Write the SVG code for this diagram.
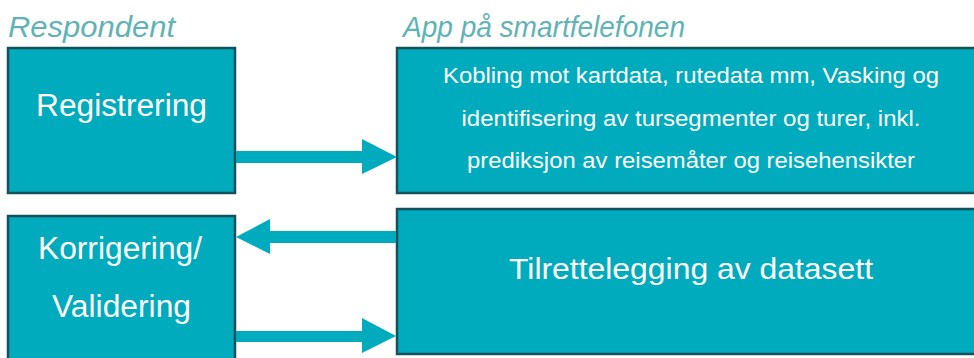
<svg xmlns="http://www.w3.org/2000/svg" width="974" height="358" viewBox="0 0 974 358">
<style>
.box{fill:#00ABBE;stroke:#17505A;stroke-width:2.5}
.hdr{font-family:"Liberation Sans",Arial,sans-serif;font-style:italic;fill:#5FB3B5;font-size:29px}
.lbl{font-family:"Liberation Sans",Arial,sans-serif;fill:#FFFFFF}
.arr{fill:#00ABBE}
</style>
<rect width="974" height="358" fill="#FFFFFF"/>
<text class="hdr" x="8" y="37" textLength="167" lengthAdjust="spacingAndGlyphs">Respondent</text>
<text class="hdr" x="403" y="37" textLength="282" lengthAdjust="spacingAndGlyphs">App på smartfelefonen</text>
<g id="registrering">
<rect class="box" x="8" y="48" width="227" height="145"/>
<text class="lbl" x="36" y="116" font-size="31" textLength="171" lengthAdjust="spacingAndGlyphs">Registrering</text>
</g>
<g id="app">
<rect class="box" x="397" y="48" width="600" height="145"/>
<text class="lbl" x="691" y="83" font-size="22" text-anchor="middle" textLength="496" lengthAdjust="spacingAndGlyphs">Kobling mot kartdata, rutedata mm, Vasking og</text>
<text class="lbl" x="691" y="126" font-size="22" text-anchor="middle" textLength="459" lengthAdjust="spacingAndGlyphs">identifisering av tursegmenter og turer, inkl.</text>
<text class="lbl" x="691" y="168" font-size="22" text-anchor="middle" textLength="448" lengthAdjust="spacingAndGlyphs">prediksjon av reisemåter og reisehensikter</text>
</g>
<g id="korrigering">
<rect class="box" x="8" y="216" width="227" height="160"/>
<text class="lbl" x="38" y="259" font-size="31" textLength="164" lengthAdjust="spacingAndGlyphs">Korrigering/</text>
<text class="lbl" x="52" y="317" font-size="31" textLength="139" lengthAdjust="spacingAndGlyphs">Validering</text>
</g>
<g id="tilrettelegging">
<rect class="box" x="397" y="209" width="600" height="145"/>
<text class="lbl" x="691" y="279" font-size="30" text-anchor="middle" textLength="364" lengthAdjust="spacingAndGlyphs">Tilrettelegging av datasett</text>
</g>
<g id="connectors">
<polygon class="arr" points="236,151 362,151 362,139 397,157 362,174 362,163 236,163"/>
<polygon class="arr" points="396,231 270,231 270,219 236,237 270,254 270,243 396,243"/>
<polygon class="arr" points="236,331 362,331 362,318 396,336 362,353 362,342 236,342"/>
</g>
</svg>
